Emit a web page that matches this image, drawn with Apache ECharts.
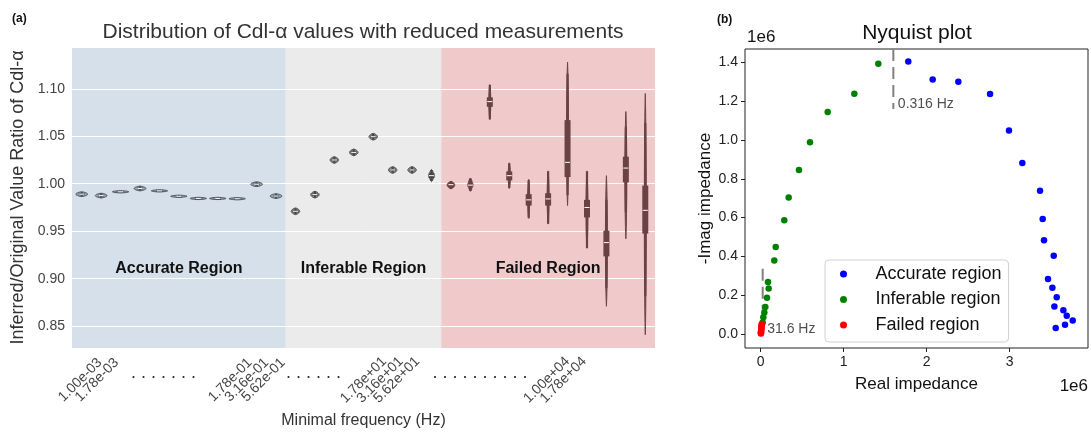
<!DOCTYPE html>
<html>
<head>
<meta charset="utf-8">
<script src="https://cdn.jsdelivr.net/npm/echarts@6/dist/echarts.min.js"></script>
<style>
html,body{margin:0;padding:0;background:#fff;}
#chart{width:1091px;height:435px;}
</style>
</head>
<body>
<div id="chart"></div>
<script>
// ================= DATA =================
// (a) violin panel: minimal frequency categories (Hz)
const freqLabels = ['1.00e-03','1.78e-03','3.16e-03','5.62e-03','1.00e-02','1.78e-02','3.16e-02','5.62e-02',
  '1.00e-01','1.78e-01','3.16e-01','5.62e-01','1.00e+00','1.78e+00','3.16e+00','5.62e+00','1.00e+01',
  '1.78e+01','3.16e+01','5.62e+01','1.00e+02','1.78e+02','3.16e+02','5.62e+02','1.00e+03','1.78e+03',
  '3.16e+03','5.62e+03','1.00e+04','1.78e+04'];
// tick-label slots used on the original axis (35 slots), and which ones carry a label
const tickSlotCount = 35;
const shownTickIdx = [0, 1, 9, 10, 11, 17, 18, 19, 28, 29];
const dotSlots = [5, 14, 24];
const dotTexts = ['. . . . . . .', '. . . . . .', '. . . . . . . . . .'];

// regions (category index ranges)
const regionNames = ['Accurate Region', 'Inferable Region', 'Failed Region'];
const regionFrom = [0, 11, 19];
const regionTo = [10, 18, 29];

// violin statistics (ratio inferred / original)
const vMed = [0.9890,0.9875,0.9915,0.9950,0.9925,0.9868,0.9845,0.9845,0.9842,0.9995,0.9870,
  0.9710,0.9885,1.0250,1.0330,1.0495,1.0145,1.0145,1.0085,
  0.9990,0.9985,1.0865,1.0085,0.9830,0.9840,1.0225,0.9750,0.9380,1.0165,0.9720];
const vQ1 = [0.9880,0.9865,0.9910,0.9940,0.9920,0.9863,0.9840,0.9840,0.9837,0.9985,0.9860,
  0.9698,0.9873,1.0238,1.0318,1.0483,1.0133,1.0133,1.0060,
  0.9975,0.9970,1.0810,1.0035,0.9770,0.9770,1.0070,0.9645,0.9235,1.0015,0.9475];
const vQ3 = [0.9900,0.9885,0.9920,0.9960,0.9930,0.9873,0.9850,0.9850,0.9847,1.0005,0.9880,
  0.9722,0.9897,1.0262,1.0342,1.0507,1.0157,1.0157,1.0110,
  1.0005,1.0005,1.0910,1.0130,0.9890,0.9900,1.0670,0.9830,0.9505,1.0285,0.9980];
const vWlo = [0.9868,0.9853,0.9905,0.9928,0.9915,0.9858,0.9835,0.9835,0.9832,0.9973,0.9848,
  0.9680,0.9855,1.0220,1.0300,1.0465,1.0115,1.0115,1.0030,
  0.9950,0.9925,1.0680,0.9955,0.9640,0.9580,0.9880,0.9325,0.8900,0.9700,0.8820];
const vWhi = [0.9912,0.9897,0.9925,0.9972,0.9935,0.9878,0.9855,0.9855,0.9852,1.0017,0.9892,
  0.9740,0.9915,1.0280,1.0360,1.0525,1.0175,1.0175,1.0145,
  1.0022,1.0055,1.1040,1.0215,1.0040,1.0130,1.1160,1.0130,0.9830,1.0595,1.0640];
const vLo = [0.9865,0.9850,0.9903,0.9925,0.9913,0.9856,0.9833,0.9833,0.9830,0.9970,0.9845,
  0.9675,0.9850,1.0215,1.0295,1.0460,1.0110,1.0110,1.0022,
  0.9947,0.9920,1.0675,0.9950,0.9635,0.9575,0.9770,0.9320,0.8710,0.9420,0.8410];
const vHi = [0.9915,0.9900,0.9927,0.9975,0.9937,0.9880,0.9857,0.9857,0.9854,1.0020,0.9895,
  0.9745,0.9920,1.0285,1.0365,1.0530,1.0180,1.0180,1.0150,
  1.0025,1.0060,1.1045,1.0220,1.0045,1.0135,1.1280,1.0135,1.0085,1.0760,1.0950];
const yTicksA = [0.85, 0.90, 0.95, 1.00, 1.05, 1.10];

// (b) Nyquist panel, impedances in units of 1e6 ohm
const accRe = [1.778,2.072,2.381,2.763,2.991,3.152,3.365,3.397,3.413,3.530,3.461,3.514,3.566,3.538,3.646,3.687,3.759,3.666,3.554];
const accIm = [1.405,1.312,1.300,1.237,1.049,0.881,0.739,0.593,0.483,0.404,0.284,0.239,0.189,0.142,0.122,0.094,0.070,0.048,0.031];
const infRe = [1.417,1.128,0.807,0.594,0.461,0.337,0.284,0.181,0.164,0.088,0.096,0.076,0.056,0.044,0.032,0.024];
const infIm = [1.393,1.239,1.144,0.988,0.845,0.704,0.586,0.448,0.379,0.268,0.235,0.187,0.139,0.111,0.086,0.060];
const failRe = [0.013,0.011,0.009,0.008,0.007,0.006,0.005,0.004,0.004,0.003,0.003];
const failIm = [0.052,0.045,0.038,0.032,0.026,0.021,0.016,0.012,0.008,0.005,0.003];
const boundaryLabels = ['0.316 Hz', '31.6 Hz'];
const boundaryRe = [1.598, 0.024];
const boundaryImTop = [1.469, 0.337];
const boundaryImBottom = [1.160, 0.125];
const boundaryLabelIm = [1.186, 0.027];
const xTicksB = [0, 1, 2, 3];
const yTicksB = [0.0, 0.2, 0.4, 0.6, 0.8, 1.0, 1.2, 1.4];

// ================= CHART =================
const FONT = 'Liberation Sans, Arial, Helvetica, sans-serif';
const chart = echarts.init(document.getElementById('chart'), null, {renderer: 'canvas'});

const regionColors = ['#d6e0ea', '#ebebeb', '#f0c9cb'];
const violinPalette = [
  {fill: '#9ea7b1', stroke: '#4a5159', box: '#4a5159'},
  {fill: '#949494', stroke: '#474747', box: '#444444'},
  {fill: '#6e4446', stroke: '#6e4446', box: '#6a4244'}
];
function regionOf(i) {
  for (let r = 0; r < regionFrom.length; r++) if (i >= regionFrom[r] && i <= regionTo[r]) return r;
  return 0;
}

const regionData = regionNames.map((n, r) => [regionFrom[r], regionTo[r], r]);
const violinData = vMed.map((m, i) => [i, m, vQ1[i], vQ3[i], vWlo[i], vWhi[i], vLo[i], vHi[i]]);

const slotLabels = [];
for (let k = 0; k < tickSlotCount; k++) slotLabels.push(shownTickIdx.indexOf(k) >= 0 ? freqLabels[k] : '');
const dotLabels = [];
for (let k = 0; k < tickSlotCount; k++) {
  const d = dotSlots.indexOf(k);
  dotLabels.push(d >= 0 ? dotTexts[d] : '');
}

function renderRegion(params, api) {
  const from = api.value(0), to = api.value(1), r = api.value(2);
  const band = api.size([1, 0])[0];
  const cs = params.coordSys;
  const x0 = api.coord([from, 1])[0] - band / 2;
  const x1 = api.coord([to, 1])[0] + band / 2;
  const ty = api.coord([from, 0.911])[1];
  return {
    type: 'group',
    children: [
      {type: 'rect', shape: {x: x0, y: cs.y, width: x1 - x0, height: cs.height},
        style: {fill: regionColors[r]}},
      {type: 'text', style: {text: regionNames[r], x: (x0 + x1) / 2, y: ty,
        align: 'center', verticalAlign: 'middle', textAlign: 'center', textVerticalAlign: 'middle',
        font: 'bold 16px ' + FONT, fill: '#111'}}
    ]
  };
}

function renderViolin(params, api) {
  const i = api.value(0);
  const med = api.value(1), q1 = api.value(2), q3 = api.value(3);
  const wlo = api.value(4), whi = api.value(5), lo = api.value(6), hi = api.value(7);
  const c = (val) => api.coord([i, val]);
  const x = c(med)[0];
  const yMed = c(med)[1], yQ1 = c(q1)[1], yQ3 = c(q3)[1];
  const yWlo = c(wlo)[1], yWhi = c(whi)[1], yLo = c(lo)[1], yHi = c(hi)[1];
  const band = api.size([1, 0])[0];
  const h = Math.max(yLo - yHi, 0.5);
  const W = Math.max(1, Math.min(band * 0.42, 28 / h));
  const pal = violinPalette[regionOf(i)];
  const pts = [];
  const N = 20;
  for (let k = 0; k <= N; k++) { const t = k / N; pts.push([x + W * Math.pow(Math.sin(Math.PI * t), 0.7), yLo - t * h]); }
  for (let k = N; k >= 0; k--) { const t = k / N; pts.push([x - W * Math.pow(Math.sin(Math.PI * t), 0.7), yLo - t * h]); }
  return {
    type: 'group',
    children: [
      {type: 'polygon', shape: {points: pts}, style: {fill: pal.fill, stroke: pal.stroke, lineWidth: 1}},
      {type: 'line', shape: {x1: x, y1: yWlo, x2: x, y2: yWhi}, style: {stroke: pal.box, lineWidth: 2.2}},
      {type: 'rect', shape: {x: x - 3, y: yQ3, width: 6, height: Math.max(yQ1 - yQ3, 1.5)}, style: {fill: pal.box}},
      {type: 'line', shape: {x1: x - 2.5, y1: yMed, x2: x + 2.5, y2: yMed}, style: {stroke: '#ffffff', lineWidth: 1}}
    ]
  };
}

const pairs = (xs, ys) => xs.map((v, i) => [v, ys[i]]);

const series = [
  {type: 'custom', name: 'regions', xAxisIndex: 0, yAxisIndex: 0, z: 0, silent: true,
    renderItem: renderRegion, data: regionData, encode: {x: 0, y: -1}},
  {type: 'custom', name: 'violins', xAxisIndex: 0, yAxisIndex: 0, z: 3, silent: true,
    renderItem: renderViolin, data: violinData, encode: {x: 0, y: 1}},
  {type: 'scatter', name: 'Accurate region', xAxisIndex: 3, yAxisIndex: 1, symbolSize: 6.5,
    itemStyle: {color: '#0000ff', opacity: 1}, data: pairs(accRe, accIm), z: 5},
  {type: 'scatter', name: 'Inferable region', xAxisIndex: 3, yAxisIndex: 1, symbolSize: 6.5,
    itemStyle: {color: '#008000', opacity: 1}, data: pairs(infRe, infIm), z: 5},
  {type: 'scatter', name: 'Failed region', xAxisIndex: 3, yAxisIndex: 1, symbolSize: 6.5,
    itemStyle: {color: '#ff0000', opacity: 1}, data: pairs(failRe, failIm), z: 5}
];
boundaryLabels.forEach((lab, k) => {
  series.push({type: 'line', name: 'boundary' + k, xAxisIndex: 3, yAxisIndex: 1, silent: true,
    showSymbol: false, symbol: 'none', z: 4,
    lineStyle: {color: '#808080', width: 2, type: [12, 6]},
    data: [[boundaryRe[k], boundaryImTop[k]], [boundaryRe[k], boundaryImBottom[k]]]});
  series.push({type: 'scatter', name: 'blabel' + k, xAxisIndex: 3, yAxisIndex: 1, silent: true,
    symbolSize: 1, itemStyle: {color: 'rgba(0,0,0,0)'}, z: 4,
    label: {show: true, position: 'right', distance: 4, formatter: lab, fontSize: 14, color: '#222', fontFamily: FONT},
    data: [[boundaryRe[k], boundaryLabelIm[k]]]});
});

const option = {
  animation: false,
  backgroundColor: '#ffffff',
  textStyle: {fontFamily: FONT},
  grid: [
    {left: 72, top: 47, width: 583, height: 301, show: false},
    {left: 745, top: 49, width: 343, height: 299, show: true, borderColor: '#222', borderWidth: 1, backgroundColor: 'transparent'}
  ],
  xAxis: [
    {type: 'category', gridIndex: 0, position: 'bottom', data: freqLabels, boundaryGap: true,
      axisLine: {show: false}, axisTick: {show: false}, axisLabel: {show: false}, splitLine: {show: false}},
    {type: 'category', gridIndex: 0, position: 'bottom', data: slotLabels, boundaryGap: true,
      axisLine: {show: false}, axisTick: {show: false}, splitLine: {show: false},
      axisLabel: {interval: 0, rotate: 45, align: 'center', verticalAlign: 'middle', margin: 32,
        fontSize: 14, color: '#444'},
      name: 'Minimal frequency (Hz)', nameLocation: 'middle', nameGap: 64,
      nameTextStyle: {fontSize: 16, color: '#333'}},
    {type: 'category', gridIndex: 0, position: 'bottom', data: dotLabels, boundaryGap: true,
      axisLine: {show: false}, axisTick: {show: false}, splitLine: {show: false},
      axisLabel: {interval: 0, rotate: 0, margin: 16, fontSize: 18, color: '#333'}},
    {type: 'value', gridIndex: 1, position: 'bottom', min: -0.189, max: 3.943,
      axisLine: {show: false, onZero: false}, splitLine: {show: false},
      axisTick: {show: true, inside: false, length: 4, customValues: xTicksB, lineStyle: {color: '#222'}},
      axisLabel: {customValues: xTicksB, fontSize: 14, color: '#222', margin: 7, formatter: v => String(v)},
      name: 'Real impedance', nameLocation: 'middle', nameGap: 28,
      nameTextStyle: {fontSize: 17, color: '#111'}}
  ],
  yAxis: [
    {type: 'value', gridIndex: 0, min: 0.827, max: 1.144, splitNumber: 6, z: 1,
      axisLine: {show: false}, axisTick: {show: false},
      splitLine: {show: true, lineStyle: {color: '#ffffff', width: 1}},
      axisLabel: {customValues: yTicksA, fontSize: 14, color: '#444', margin: 7, formatter: v => v.toFixed(2)},
      name: 'Inferred/Original Value Ratio of Cdl-α', nameLocation: 'middle', nameGap: 37,
      nameTextStyle: {fontSize: 18, color: '#333'}},
    {type: 'value', gridIndex: 1, position: 'left', min: -0.072, max: 1.469,
      axisLine: {show: false, onZero: false}, splitLine: {show: false},
      axisTick: {show: true, inside: false, length: 4, customValues: yTicksB, lineStyle: {color: '#222'}},
      axisLabel: {customValues: yTicksB, fontSize: 14, color: '#222', margin: 7, formatter: v => v.toFixed(1)},
      name: '-Imag impedance', nameLocation: 'middle', nameGap: 31,
      nameTextStyle: {fontSize: 17, color: '#111'}}
  ],
  legend: {
    data: ['Accurate region', 'Inferable region', 'Failed region'],
    orient: 'vertical', left: 825, top: 260, icon: 'circle', itemWidth: 54, itemHeight: 7, itemGap: 7.5,
    selectedMode: false,
    textStyle: {fontSize: 18, lineHeight: 18, color: '#111'},
    padding: [5, 7, 8, 15], backgroundColor: 'rgba(255,255,255,0.85)', borderColor: '#d0d0d0',
    borderWidth: 1, borderRadius: 4
  },
  graphic: [
    {type: 'text', x: 12, y: 19, style: {text: '(a)', font: 'bold 12px ' + FONT, fill: '#111', verticalAlign: 'middle', textVerticalAlign: 'middle'}},
    {type: 'text', x: 717, y: 20, style: {text: '(b)', font: 'bold 12px ' + FONT, fill: '#111', verticalAlign: 'middle', textVerticalAlign: 'middle'}},
    {type: 'text', x: 363, y: 32, style: {text: 'Distribution of Cdl-α values with reduced measurements', font: '21px ' + FONT, fill: '#333',
      align: 'center', textAlign: 'center', verticalAlign: 'middle', textVerticalAlign: 'middle'}},
    {type: 'text', x: 917, y: 33, style: {text: 'Nyquist plot', font: '21px ' + FONT, fill: '#111',
      align: 'center', textAlign: 'center', verticalAlign: 'middle', textVerticalAlign: 'middle'}},
    {type: 'text', x: 747, y: 37, style: {text: '1e6', font: '17px ' + FONT, fill: '#111', verticalAlign: 'middle', textVerticalAlign: 'middle'}},
    {type: 'text', x: 1088, y: 386, style: {text: '1e6', font: '17px ' + FONT, fill: '#111',
      align: 'right', textAlign: 'right', verticalAlign: 'middle', textVerticalAlign: 'middle'}}
  ],
  series: series
};
chart.setOption(option);
</script>
</body>
</html>
